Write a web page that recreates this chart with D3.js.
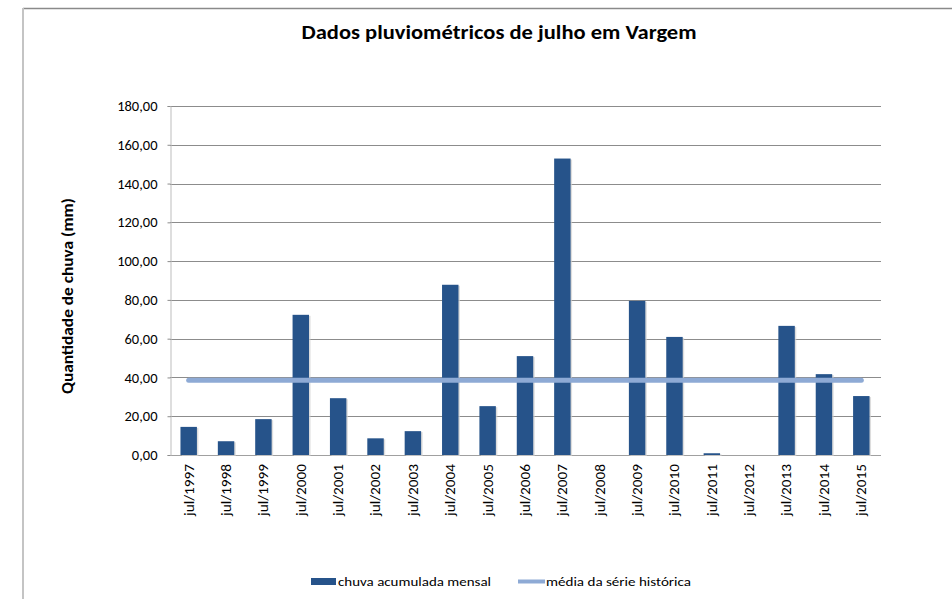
<!DOCTYPE html>
<meta charset="utf-8">
<style>
body { margin: 0; background: #fff; }
text { font-family: Calibri, Carlito, "Liberation Sans Narrow", "Open Sans", sans-serif; fill: #000; }
</style>
<svg width="952" height="599"></svg>
<script src="https://d3js.org/d3.v7.min.js"></script>
<script>

var categorias = ["jul/1997", "jul/1998", "jul/1999", "jul/2000", "jul/2001", "jul/2002", "jul/2003",
  "jul/2004", "jul/2005", "jul/2006", "jul/2007", "jul/2008", "jul/2009", "jul/2010",
  "jul/2011", "jul/2012", "jul/2013", "jul/2014", "jul/2015"];

var chuvaMensal = [14.5, 7.1, 18.5, 72.3, 29.3, 8.6, 12.3, 87.8, 25.2, 51.0,
  152.9, 0, 79.5, 60.9, 0.9, 0, 66.6, 41.7, 30.4];

var mediaHistorica = [38.5, 38.5, 38.5, 38.5, 38.5, 38.5, 38.5, 38.5, 38.5, 38.5,
  38.5, 38.5, 38.5, 38.5, 38.5, 38.5, 38.5, 38.5, 38.5];

var yTicks = [0, 20, 40, 60, 80, 100, 120, 140, 160, 180];

var svg = d3.select("svg");

var azul = "#26538a",
    azulClaro = "#8eaad5";

var locale = d3.formatLocale({decimal: ",", thousands: ".", grouping: [3], currency: ["R$", ""]});
var fmt = locale.format(".2f");

// moldura do grafico
svg.append("line").attr("x1", 23).attr("x2", 952).attr("y1", 8.5).attr("y2", 8.5)
   .attr("stroke", "#8a8a8a").attr("stroke-width", 1.5);
svg.append("line").attr("x1", 23).attr("x2", 23).attr("y1", 8).attr("y2", 599)
   .attr("stroke", "#c4c4c4").attr("stroke-width", 2);

var x = d3.scaleBand()
    .domain(categorias)
    .range([170, 880])
    .paddingInner(0.56)
    .paddingOuter(0.28);

var y = d3.scaleLinear()
    .domain([0, 180])
    .range([455, 106]);

// grade
svg.append("g")
   .selectAll("line")
   .data(yTicks)
   .enter().append("line")
   .attr("x1", 170).attr("x2", 881)
   .attr("y1", function(d) { return Math.round(y(d)) + 0.5; })
   .attr("y2", function(d) { return Math.round(y(d)) + 0.5; })
   .attr("stroke", function(d) { return d == 0 ? "#a0a0a0" : "#8c8c8c"; })
   .attr("stroke-width", 1);

// eixo y
var yAxis = svg.append("g")
   .attr("transform", "translate(170.5,0)")
   .call(d3.axisLeft(y).tickValues(yTicks).tickSize(3).tickPadding(10).tickFormat(fmt));
yAxis.select(".domain").attr("stroke", "#bdbdbd");
yAxis.selectAll(".tick line").attr("stroke", "#8c8c8c");
yAxis.selectAll(".tick text")
     .attr("font-size", "14.5px")
     .attr("font-family", "Calibri, Carlito, 'Liberation Sans Narrow', 'Open Sans', sans-serif")
     .attr("fill", "#000");

// sombra das barras
svg.append("g")
   .selectAll("rect")
   .data(chuvaMensal)
   .enter().append("rect")
   .attr("x", function(d, i) { return x(categorias[i]) + 1.5; })
   .attr("y", function(d) { return y(d) + 1; })
   .attr("width", x.bandwidth())
   .attr("height", function(d) { return d > 0 ? y(0) - y(d) : 0; })
   .attr("fill", "#cfcfcf")
   .attr("opacity", 0.7);

// barras
svg.append("g")
   .selectAll("rect")
   .data(chuvaMensal)
   .enter().append("rect")
   .attr("x", function(d, i) { return x(categorias[i]); })
   .attr("y", function(d) { return y(d); })
   .attr("width", x.bandwidth())
   .attr("height", function(d) { return y(0) - y(d); })
   .attr("fill", azul);

// linha da media
var linha = d3.line()
    .x(function(d, i) { return x(categorias[i]) + x.bandwidth() / 2; })
    .y(function(d) { return y(d); });

svg.append("path")
   .datum(mediaHistorica)
   .attr("d", linha)
   .attr("fill", "none")
   .attr("stroke", azulClaro)
   .attr("stroke-width", 5)
   .attr("stroke-linecap", "round");

// rotulos do eixo x
svg.append("g")
   .selectAll("text")
   .data(categorias)
   .enter().append("text")
   .attr("transform", function(d) { return "translate(" + (x(d) + x.bandwidth() / 2) + ",464) rotate(-90)"; })
   .attr("text-anchor", "end")
   .attr("dy", "0.35em")
   .attr("font-size", "14px")
   .attr("textLength", 52)
   .attr("lengthAdjust", "spacingAndGlyphs")
   .text(function(d) { return d; });

// titulo
svg.append("text")
   .attr("x", 499)
   .attr("y", 39)
   .attr("text-anchor", "middle")
   .attr("font-size", "20px")
   .attr("font-weight", "bold")
   .attr("textLength", 395)
   .attr("lengthAdjust", "spacingAndGlyphs")
   .text("Dados pluviométricos de julho em Vargem");

// titulo do eixo y
svg.append("text")
   .attr("transform", "translate(73,296) rotate(-90)")
   .attr("text-anchor", "middle")
   .attr("font-size", "15px")
   .attr("font-weight", "bold")
   .attr("textLength", 196)
   .attr("lengthAdjust", "spacingAndGlyphs")
   .text("Quantidade de chuva (mm)");

// legenda
var leg = svg.append("g");
leg.append("rect")
   .attr("x", 311).attr("y", 578).attr("width", 25).attr("height", 7)
   .attr("fill", azul);
leg.append("text")
   .attr("x", 338).attr("y", 586)
   .attr("font-size", "13px")
   .attr("textLength", 153)
   .attr("lengthAdjust", "spacingAndGlyphs")
   .text("chuva acumulada mensal");
leg.append("line")
   .attr("x1", 518).attr("x2", 545).attr("y1", 581.5).attr("y2", 581.5)
   .attr("stroke", azulClaro).attr("stroke-width", 4);
leg.append("text")
   .attr("x", 546).attr("y", 586)
   .attr("font-size", "13px")
   .attr("textLength", 145)
   .attr("lengthAdjust", "spacingAndGlyphs")
   .text("média da série histórica");

</script>
